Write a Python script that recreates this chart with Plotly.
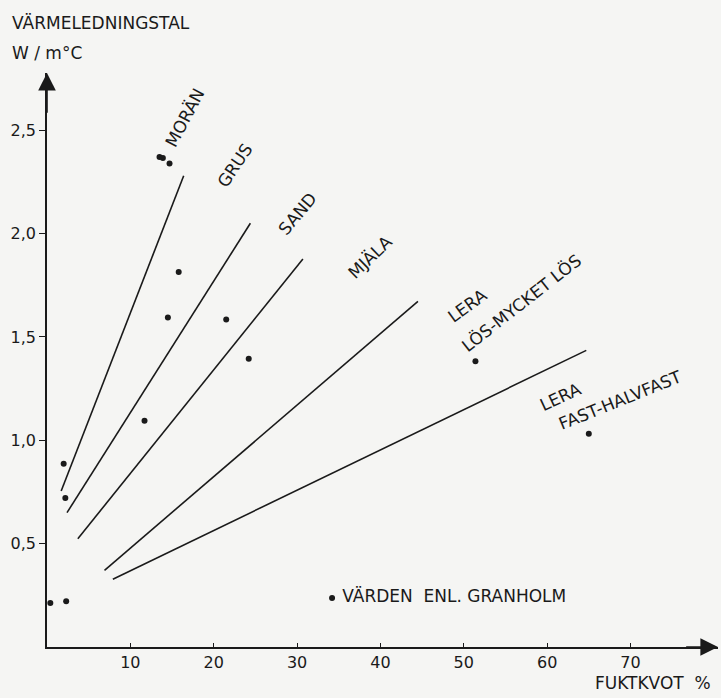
import plotly.graph_objects as go

# ---- data ----
line_x = [[1.7, 16.4], [2.4, 24.4], [3.7, 30.7], [6.9, 44.5], [7.9, 64.7]]
line_y = [[0.755, 2.28], [0.65, 2.05], [0.524, 1.877], [0.371, 1.672], [0.328, 1.435]]

points_x = [13.5, 13.9, 14.7, 15.8, 14.5, 21.5, 24.2, 11.7, 2.0, 2.2, 0.4, 2.3, 51.4, 65.0]
points_y = [2.371, 2.366, 2.339, 1.814, 1.594, 1.585, 1.395, 1.095, 0.887, 0.721, 0.213, 0.221, 1.382, 1.032]

legend_x = [34.2]
legend_y = [0.237]
legend_text = "VÄRDEN  ENL. GRANHOLM"

label_text = ["MORÄN", "GRUS", "SAND", "MJÄLA", "LERA", "LÖS-MYCKET LÖS", "LERA", "FAST-HALVFAST"]
label_x = [16.6, 22.6, 30.0, 38.8, 50.4, 56.9, 61.6, 68.8]
label_y = [2.563, 2.330, 2.097, 1.885, 1.649, 1.668, 1.208, 1.193]
label_angle = [62, 56, 50, 44, 36, 38, 25, 22]

x_tickvals = [10, 20, 30, 40, 50, 60, 70]
x_ticktext = ["10", "20", "30", "40", "50", "60", "70"]
y_tickvals = [0.5, 1.0, 1.5, 2.0, 2.5]
y_ticktext = ["0,5", "1,0", "1,5", "2,0", "2,5"]

x_title = "FUKTKVOT  %"
y_title_1 = "VÄRMELEDNINGSTAL"
y_title_2 = "W / m°C"

FONT = "DejaVu Sans"
INK = "#1a1a1a"
BG = "#f5f5f3"
TS = 17

fig = go.Figure()
for xs, ys in zip(line_x, line_y):
    fig.add_trace(go.Scatter(x=xs, y=ys, mode="lines",
                             line=dict(color=INK, width=1.6),
                             showlegend=False, hoverinfo="skip"))
fig.add_trace(go.Scatter(x=points_x, y=points_y, mode="markers",
                         marker=dict(color=INK, size=6),
                         showlegend=False, cliponaxis=False))
fig.add_trace(go.Scatter(x=legend_x, y=legend_y, mode="markers+text",
                         marker=dict(color=INK, size=6),
                         text=[" " + legend_text], textposition="middle right",
                         textfont=dict(family=FONT, size=TS, color=INK),
                         showlegend=False, cliponaxis=False))

for t, x, y, a in zip(label_text, label_x, label_y, label_angle):
    fig.add_annotation(x=x, y=y, text=t, textangle=-a, showarrow=False,
                       font=dict(family=FONT, size=TS, color=INK))

XMAX = 80.5
YMAX = 2.777
# axis arrows
fig.add_annotation(x=XMAX, y=0, ax=XMAX - 4, ay=0, axref="x", ayref="y",
                   text="", showarrow=True, arrowhead=2, arrowsize=2.2,
                   arrowwidth=1.6, arrowcolor=INK, standoff=0)
fig.add_annotation(x=0, y=YMAX, ax=0, ay=YMAX - 0.2, axref="x", ayref="y",
                   text="", showarrow=True, arrowhead=2, arrowsize=2.2,
                   arrowwidth=1.6, arrowcolor=INK, standoff=0)

# axis titles
fig.add_annotation(xref="paper", yref="paper", x=1.0, y=0,
                   xanchor="right", yanchor="middle", xshift=-5, yshift=-36,
                   text=x_title, showarrow=False,
                   font=dict(family=FONT, size=TS, color=INK))
fig.add_annotation(xref="paper", yref="paper", x=0, y=1.0,
                   xanchor="left", yanchor="middle", xshift=-37, yshift=50,
                   text=y_title_1, showarrow=False,
                   font=dict(family=FONT, size=TS, color=INK))
fig.add_annotation(xref="paper", yref="paper", x=0, y=1.0,
                   xanchor="left", yanchor="middle", xshift=-37, yshift=20,
                   text=y_title_2, showarrow=False,
                   font=dict(family=FONT, size=TS, color=INK))

fig.update_xaxes(range=[0, XMAX], showgrid=False, zeroline=False,
                 showline=True, linecolor=INK, linewidth=1.6,
                 tickvals=x_tickvals, ticktext=x_ticktext,
                 ticks="inside", ticklen=4, tickwidth=1.2, tickcolor=INK,
                 tickfont=dict(family=FONT, size=16, color=INK))
fig.update_yaxes(range=[0, YMAX], showgrid=False, zeroline=False,
                 showline=True, linecolor=INK, linewidth=1.6,
                 tickvals=y_tickvals, ticktext=y_ticktext,
                 ticks="outside", ticklen=6, tickwidth=1.2, tickcolor=INK,
                 tickfont=dict(family=FONT, size=16, color=INK))

fig.update_layout(width=721, height=698,
                  margin=dict(l=47, r=3, t=73, b=51),
                  paper_bgcolor=BG, plot_bgcolor=BG,
                  font=dict(family=FONT, color=INK))

fig.write_html("out.html", config={"displayModeBar": False},
               post_script="document.body.style.margin='0';"
                           "document.body.style.background='" + BG + "';")
